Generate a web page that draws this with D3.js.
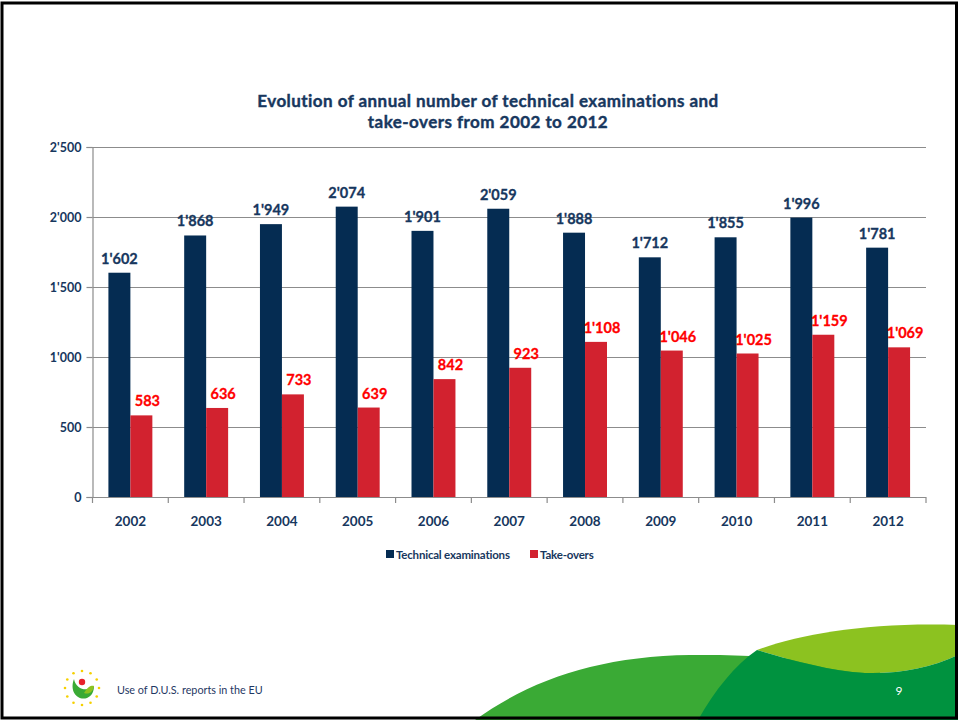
<!DOCTYPE html>
<html><head><meta charset="utf-8">
<script src="https://cdn.jsdelivr.net/npm/d3@7"></script>
<style>body{margin:0;background:#fff}svg{display:block}</style>
</head><body>
<svg id="c" width="960" height="722"></svg>
<script>
const years = ["2002","2003","2004","2005","2006","2007","2008","2009","2010","2011","2012"];
const technicalExaminations = [1602,1868,1949,2074,1901,2059,1888,1712,1855,1996,1781];
const takeOvers = [583,636,733,639,842,923,1108,1046,1025,1159,1069];
const yTicks = [0,500,1000,1500,2000,2500];
const seriesNames = ["Technical examinations","Take-overs"];
const titleLines = ["Evolution of annual number of technical examinations and","take-overs from 2002 to 2012"];

const navy = "#052c52", red = "#d2222f", textNavy = "#17375e", labelRed = "#ff0000";
const svg = d3.select("#c");
const F = "Lato, 'Open Sans', sans-serif";

// slide decorations
svg.append("path").attr("fill","#3aaa35")
  .attr("d","M475,720 C530,680 600,656 690,655 C760,654 820,660 880,672 L880,720 Z");
svg.append("path").attr("fill","#8cc220")
  .attr("d","M757,650 C800,634 870,622 958,625 L958,655 C930,668 900,674 865,673 C830,671 790,660 757,650 Z");
svg.append("path").attr("fill","#00923f")
  .attr("d","M698,720 C715,690 735,665 757,650 C790,660 830,671 865,673 C900,674 930,668 958,655 L958,720 Z");

// logo
const lg = svg.append("g").attr("transform","translate(82,688)");
d3.range(12).forEach(i=>{
  const a = i/12*2*Math.PI;
  lg.append("circle").attr("cx",17*Math.cos(a)).attr("cy",17*Math.sin(a)).attr("r",1.3).attr("fill","#f5d000");
});
lg.append("path").attr("fill","#3aaa35").attr("d","M-8,-9 C-13,4 -4,13 5,10 C10,8 12,3 12,-2 C6,4 -6,2 -8,-9 Z");
lg.append("path").attr("fill","#8cc220").attr("d","M2,5 C6,-2 10,-3 12,-2 C11,4 7,7 2,5 Z");
lg.append("circle").attr("cx",0).attr("cy",-6).attr("r",3.2).attr("fill","#e8202a");

svg.append("text").attr("x",117).attr("y",694).attr("font-family",F).attr("font-size",10.8)
  .attr("fill","#1f3864").text("Use of D.U.S. reports in the EU");
svg.append("text").attr("x",899).attr("y",695).attr("font-family",F).attr("font-size",12)
  .attr("fill","#fff").attr("text-anchor","middle").text("9");

// slide frame
svg.append("rect").attr("x",2).attr("y",3).attr("width",954.5).attr("height",715)
  .attr("fill","none").attr("stroke","#000").attr("stroke-width",3);

// title
svg.append("text").attr("x",488).attr("y",107).attr("text-anchor","middle")
  .attr("font-family",F).attr("font-weight","bold").attr("font-size",17).attr("fill",textNavy)
  .attr("stroke",textNavy).attr("stroke-width",0.4).attr("letter-spacing",0.45)
  .selectAll("tspan").data(titleLines).join("tspan")
  .attr("x",488).attr("dy",(d,i)=>i?20.5:0).text(d=>d);

// scales
const x = d3.scaleBand().domain(years).range([92.5,926]).padding(0);
const xs = d3.scaleBand().domain([0,1]).range([x.bandwidth()*0.21, x.bandwidth()*0.79]);
const y = d3.scaleLinear().domain([0,2500]).range([497,147]);
const fmt = d3.formatLocale({decimal:".",thousands:"'",grouping:[3],currency:["",""]}).format(",");

// gridlines
svg.append("g").selectAll("line").data(yTicks.filter(d=>d>0)).join("line")
  .attr("x1",92.5).attr("x2",926).attr("y1",d=>y(d)+0.5).attr("y2",d=>y(d)+0.5)
  .attr("stroke","#8c8c8c").attr("stroke-width",1.2);

// y axis
const ya = svg.append("g").attr("transform","translate(92.5,0)")
  .call(d3.axisLeft(y).tickValues(yTicks).tickFormat(fmt).tickSize(6).tickPadding(5));
ya.select(".domain").attr("stroke","#8c8c8c").attr("stroke-width",1.2);
ya.selectAll(".tick line").attr("stroke","#8c8c8c").attr("stroke-width",1.2);
ya.selectAll("text").attr("font-family",F).attr("font-size",12.5).attr("font-weight","bold").attr("fill",textNavy);

// bars
const data = years.map((yr,i)=>({yr, vals:[technicalExaminations[i], takeOvers[i]]}));
const g = svg.append("g");
const grp = g.selectAll("g").data(data).join("g").attr("transform",d=>`translate(${x(d.yr)},0)`);
grp.selectAll("rect").data(d=>d.vals.map((v,k)=>({v,k}))).join("rect")
  .attr("x",d=>xs(d.k)).attr("width",xs.bandwidth())
  .attr("y",d=>y(d.v)).attr("height",d=>y(0)-y(d.v))
  .attr("fill",d=>d.k?red:navy);
grp.selectAll("text").data(d=>d.vals.map((v,k)=>({v,k}))).join("text")
  .attr("x",d=>xs(d.k)+xs.bandwidth()/2+(d.k?6:0)).attr("y",d=>y(d.v)-9)
  .attr("text-anchor","middle").attr("font-family",F).attr("font-weight","bold").attr("font-size",14.5)
  .attr("stroke",d=>d.k?labelRed:textNavy).attr("stroke-width",0.3)
  .attr("fill",d=>d.k?labelRed:textNavy).text(d=>fmt(d.v));

// x axis
svg.append("line").attr("x1",92.5).attr("x2",926).attr("y1",497.5).attr("y2",497.5)
  .attr("stroke","#8c8c8c").attr("stroke-width",1.2);
svg.append("g").selectAll("line").data(years.map(d=>x(d)).concat([x.range()[1]])).join("line")
  .attr("x1",d=>d).attr("x2",d=>d).attr("y1",497).attr("y2",503)
  .attr("stroke","#8c8c8c").attr("stroke-width",1.2);
svg.append("g").selectAll("text").data(years).join("text")
  .attr("x",d=>x(d)+x.bandwidth()/2).attr("y",526).attr("text-anchor","middle")
  .attr("font-family",F).attr("font-weight","bold").attr("font-size",13.5).attr("fill",textNavy).text(d=>d);

// legend
const lgd = svg.append("g");
const lx = [386,530];
seriesNames.forEach((n,i)=>{
  lgd.append("rect").attr("x",lx[i]).attr("y",550).attr("width",8).attr("height",8).attr("fill",i?red:navy);
  lgd.append("text").attr("x",lx[i]+10).attr("y",558.5).attr("font-family",F).attr("font-weight","bold")
    .attr("font-size",11.5).attr("letter-spacing",-0.2).attr("fill",textNavy).text(n);
});
</script>
</body></html>
